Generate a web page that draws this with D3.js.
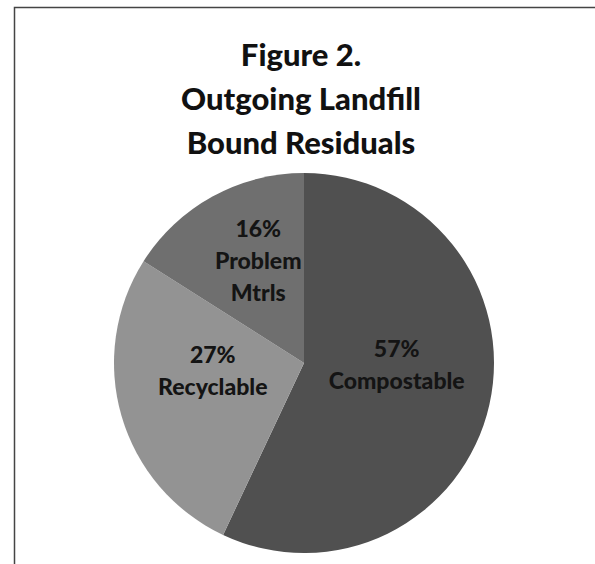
<!doctype html>
<html>
  <head>
    <script src="https://cdnjs.cloudflare.com/ajax/libs/d3/7.8.5/d3.min.js"></script>
    <style>
      body { margin: 0; background: #fff; }
      text { font-family: Lato, "Open Sans", sans-serif; font-weight: 900; }
    </style>
  </head>
  <body>
    <svg></svg>
    <script>
      var width = 595,
          height = 564;

      // data
      var categories = ["Compostable", "Recyclable", "Problem Mtrls"];
      var values = [57, 27, 16];
      var labelLines = [["57%", "Compostable"], ["27%", "Recyclable"], ["16%", "Problem", "Mtrls"]];
      var titleLines = ["Figure 2.", "Outgoing Landfill", "Bound Residuals"];
      var colors = ["#505050", "#939393", "#6f6f6f"];

      var svg = d3.select("svg").attr("width", width).attr("height", height);

      // frame (left + top edges only, like the scan)
      svg.append("path")
        .attr("d", "M14.5," + height + "V7.5H" + width)
        .attr("fill", "none")
        .attr("stroke", "#444")
        .attr("stroke-width", 1.5);

      // title
      svg.append("g").selectAll("text").data(titleLines)
        .enter().append("text")
          .attr("x", 301)
          .attr("y", function(d, i){ return 66 + i * 44; })
          .attr("text-anchor", "middle")
          .style("font-size", "31px")
          .style("fill", "#111")
          .text(function(d){ return d; });

      var cx = 304, cy = 363, r = 190;
      var pie = d3.pie().sort(null).value(function(d){ return d; });
      var arc = d3.arc().innerRadius(0).outerRadius(r);

      var g = svg.append("g").attr("transform", "translate(" + cx + "," + cy + ")");
      var arcs = pie(values);

      g.selectAll("path").data(arcs)
        .enter().append("path")
          .attr("d", arc)
          .attr("fill", function(d, i){ return colors[i]; });

      var labels = g.selectAll("text.lbl").data(arcs)
        .enter().append("text")
          .attr("class", "lbl")
          .attr("text-anchor", "middle")
          .style("font-size", "23px")
          .style("fill", "#141414")
          .attr("transform", function(d){
            var c = arc.centroid(d);
            return "translate(" + c[0] + "," + (c[1] - 19) + ")";
          });

      labels.selectAll("tspan")
        .data(function(d, i){
          var lines = labelLines[i];
          return lines.map(function(t, j){ return { t: t, dy: j === 0 ? (-(lines.length - 1) / 2 * 32 + 8) : 32 }; });
        })
        .enter().append("tspan")
          .attr("x", 0)
          .attr("dy", function(d){ return d.dy; })
          .text(function(d){ return d.t; });
    </script>
  </body>
</html>
